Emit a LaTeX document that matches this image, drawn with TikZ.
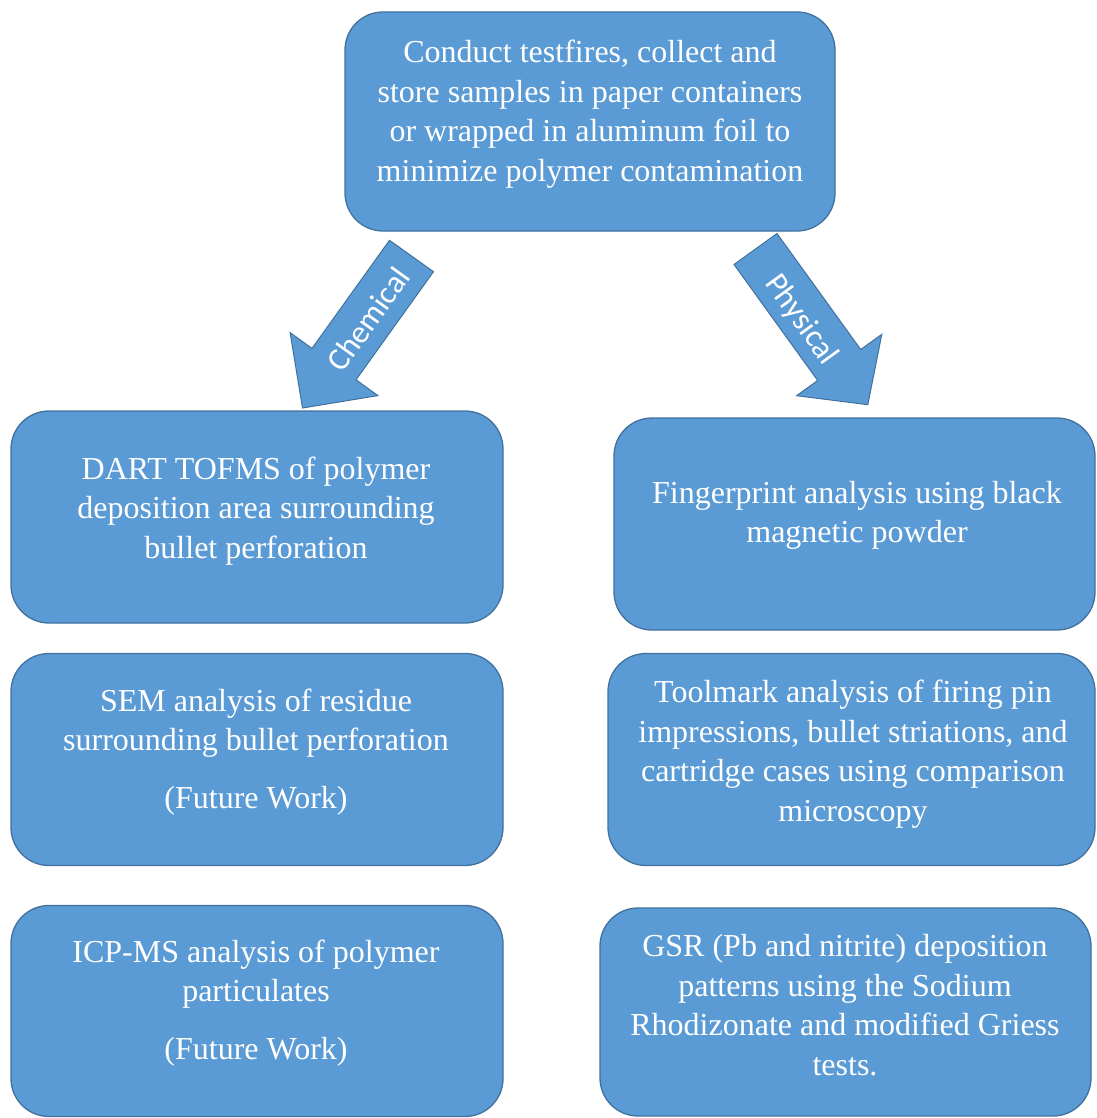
\documentclass[tikz,border=0pt]{standalone}
\usepackage{fontspec}
\setmainfont{Liberation Serif}
\newfontfamily\arrowfont{Carlito}
\definecolor{boxfill}{HTML}{5B9BD5}
\definecolor{boxline}{HTML}{41719C}
\begin{document}
\begin{tikzpicture}[x=1pt,y=-1pt,
  box/.style={draw=boxline, line width=1.3pt, fill=boxfill, rounded corners=38pt, inner sep=0pt},
  txt/.style={text=white, align=center, inner sep=0pt, font=\fontsize{32}{39.5}\selectfont},
  barrow/.style={draw=boxline, line width=1pt, fill=boxfill, line join=miter},
  alabel/.style={text=white, inner sep=0pt, font=\arrowfont\fontsize{32}{36}\selectfont}]
\useasboundingbox (0,0) rectangle (1096,1118);
% boxes
\node[box, minimum width=490pt, minimum height=219pt] (top) at (590,121.5) {};
\node[box, minimum width=492pt, minimum height=212pt] (l1) at (257,517) {};
\node[box, minimum width=481pt, minimum height=212pt] (r1) at (854.5,524) {};
\node[box, minimum width=492pt, minimum height=212pt] (l2) at (257,759.5) {};
\node[box, minimum width=487pt, minimum height=212pt] (r2) at (851.5,759.5) {};
\node[box, minimum width=492pt, minimum height=211pt] (l3) at (257,1011) {};
\node[box, minimum width=491pt, minimum height=208pt] (r3) at (845.5,1012) {};
% texts
\node[txt] (ttop) at (590,114) {Conduct testfires, collect and\\store samples in paper containers\\or wrapped in aluminum foil to\\minimize polymer contamination};
\node[txt] (tl1) at (256,511) {DART TOFMS of polymer\\deposition area surrounding\\bullet perforation};
\node[txt] (tr1) at (857,515.5) {Fingerprint analysis using black\\magnetic powder};
\node[txt] (tl2) at (256,752) {SEM analysis of residue\\surrounding bullet perforation\\[18pt](Future Work)};
\node[txt] (tr2) at (853,754) {Toolmark analysis of firing pin\\impressions, bullet striations, and\\cartridge cases using comparison\\microscopy};
\node[txt] (tl3) at (256,1003) {ICP-MS analysis of polymer\\particulates\\[18pt](Future Work)};
\node[txt] (tr3) at (845,1005) {GSR (Pb and nitrite) deposition\\patterns using the Sodium\\Rhodizonate and modified Griess\\tests.};
% block arrows
\draw[barrow] (389.5,240.3) -- (433.5,271.7) -- (356,379.8) -- (377.9,395.6) -- (302.5,408) -- (290.1,332.6) -- (312,348.4) -- cycle;
\draw[barrow] (777,233.5) -- (734,264.5) -- (817.7,380.5) -- (796.6,395.7) -- (867.8,404.7) -- (881.8,334.3) -- (860.7,349.5) -- cycle;
\node[alabel, rotate=54.4] (chem) at (368,319) {Chemical};
\node[alabel, rotate=-54.2] (phys) at (801,320) {Physical};
\end{tikzpicture}
\end{document}
